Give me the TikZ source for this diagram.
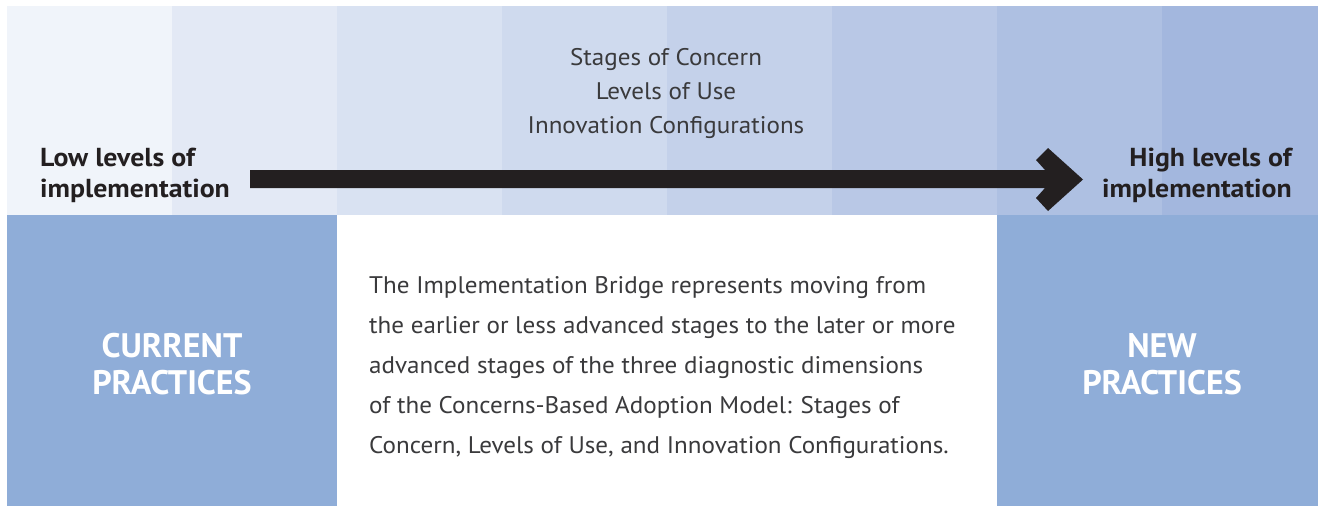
\documentclass[tikz,border=0pt]{standalone}
\usepackage{fontspec}
\setmainfont{PT Sans}
\newfontfamily\boldwide[FakeStretch=1.07]{PT Sans}
\newfontfamily\lightwide[FakeStretch=1.045]{PT Sans}
\begin{document}
\begin{tikzpicture}[x=1pt,y=-1pt,
  stripe/.style={fill=#1,draw=none},
  boxfill/.style={fill=boxblue,draw=none},
  boldlabel/.style={inner sep=0pt,font=\boldwide\fontsize{26}{31}\selectfont\bfseries,text=arrowblack},
  boxlabel/.style={inner sep=0pt,font=\fontsize{34}{37}\selectfont\bfseries,text=white,align=center},
  lighttext/.style={inner sep=0pt,text=bodygray,font=\lightwide\fontsize{24}{40}\selectfont}]
\definecolor{s1}{HTML}{F0F4FA}
\definecolor{s2}{HTML}{E3E9F5}
\definecolor{s3}{HTML}{D9E2F2}
\definecolor{s4}{HTML}{CFDAEE}
\definecolor{s5}{HTML}{C4D1EA}
\definecolor{s6}{HTML}{B9C8E6}
\definecolor{s7}{HTML}{AEC0E2}
\definecolor{s8}{HTML}{A3B7DE}
\definecolor{boxblue}{HTML}{8FADD8}
\definecolor{arrowblack}{HTML}{231F20}
\definecolor{bodygray}{HTML}{3A3A3C}
\useasboundingbox (0,0) rectangle (1318,506);
\fill[white] (0,0) rectangle (1318,506);
% top stripes
\fill[stripe=s1] (7,6) rectangle (172,215);
\fill[stripe=s2] (172,6) rectangle (337,215);
\fill[stripe=s3] (337,6) rectangle (502,215);
\fill[stripe=s4] (502,6) rectangle (667,215);
\fill[stripe=s5] (667,6) rectangle (832,215);
\fill[stripe=s6] (832,6) rectangle (997,215);
\fill[stripe=s7] (997,6) rectangle (1162,215);
\fill[stripe=s8] (1162,6) rectangle (1318,215);
% bottom boxes
\fill[boxfill] (7,215) rectangle (337,506);
\fill[boxfill] (997,215) rectangle (1318,506);
% arrow
\fill[arrowblack] (250,170) -- (1045,170) -- (1036,160) -- (1048,148) -- (1083,179.5)
  -- (1048,211) -- (1036,198) -- (1045,188) -- (250,188) -- cycle;
% side labels
\node[boldlabel,anchor=base west] (low1) at (40,166) {Low levels of};
\node[boldlabel,anchor=base west] (low2) at (40,197) {implementation};
\node[boldlabel,anchor=base east] (high1) at (1292,166) {High levels of};
\node[boldlabel,anchor=base east] (high2) at (1292,197) {implementation};
% top centre
\node[lighttext,anchor=base] (soc) at (666,65) {Stages of Concern};
\node[lighttext,anchor=base] (lou) at (666,99) {Levels of Use};
\node[lighttext,anchor=base] (ic) at (666,133) {Innovation Configurations};
% boxes
\node[boxlabel,anchor=base] (cur1) at (172,357) {CURRENT};
\node[boxlabel,anchor=base] (cur2) at (172,394) {PRACTICES};
\node[boxlabel,anchor=base] (new1) at (1162,357) {NEW};
\node[boxlabel,anchor=base] (new2) at (1162,394) {PRACTICES};
% body
\node[lighttext,anchor=base west] (b1) at (369,293) {The Implementation Bridge represents moving from};
\node[lighttext,anchor=base west] (b2) at (369,333) {the earlier or less advanced stages to the later or more};
\node[lighttext,anchor=base west] (b3) at (369,373) {advanced stages of the three diagnostic dimensions};
\node[lighttext,anchor=base west] (b4) at (369,413) {of the Concerns-Based Adoption Model: Stages of};
\node[lighttext,anchor=base west] (b5) at (369,453) {Concern, Levels of Use, and Innovation Configurations.};
\end{tikzpicture}
\end{document}
